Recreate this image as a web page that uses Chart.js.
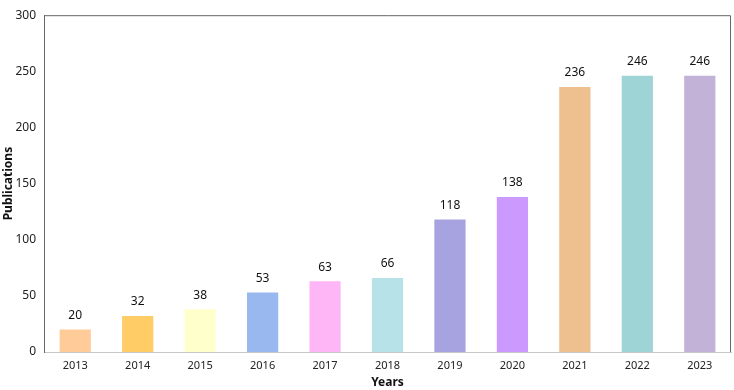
<!DOCTYPE html>
<html>
<head>
<meta charset="utf-8">
<script src="https://cdn.jsdelivr.net/npm/chart.js@4.4.0/dist/chart.umd.min.js"></script>
<style>
  html, body { margin: 0; padding: 0; background: #fff; }
  #wrap { width: 734px; height: 390px; }
</style>
</head>
<body>
<div id="wrap"><canvas id="pubCanvas"></canvas></div>
<script>
const years = ['2013', '2014', '2015', '2016', '2017', '2018', '2019', '2020', '2021', '2022', '2023'];
const publications = [20, 32, 38, 53, 63, 66, 118, 138, 236, 246, 246];
const barColors = ['#FFCC99', '#FFCC66', '#FFFFCC', '#99B8F0', '#FFB6F6', '#B6E2E8',
                   '#A6A3E0', '#CC99FF', '#EEBF8F', '#9FD4D7', '#C3B2D8'];
const yTicks = [0, 50, 100, 150, 200, 250, 300];

(() => {
    const FONT = '"Noto Sans", sans-serif';
    const ctx = document.getElementById('pubCanvas').getContext('2d');

    // value labels above each bar + box lines on top/right
    const extras = {
        id: 'extras',
        afterDatasetsDraw(chart) {
            const c = chart.ctx;
            const meta = chart.getDatasetMeta(0);
            c.save();
            c.font = '12px ' + FONT;
            c.fillStyle = '#111';
            c.textAlign = 'center';
            c.textBaseline = 'middle';
            meta.data.forEach((bar, i) => {
                c.fillText(String(publications[i]), bar.x, bar.y - 14);
            });
            const a = chart.chartArea;
            c.strokeStyle = '#666';
            c.lineWidth = 1;
            c.beginPath();
            c.moveTo(a.left, a.top + 0.5);
            c.lineTo(a.right - 0.5, a.top + 0.5);
            c.lineTo(a.right - 0.5, a.bottom);
            c.stroke();
            c.restore();
        }
    };

    new Chart(ctx, {
        type: 'bar',
        data: {
            labels: years,
            datasets: [{
                label: 'Publications',
                data: publications,
                backgroundColor: barColors,
                borderWidth: 0,
                barPercentage: 0.5,
                categoryPercentage: 1.0
            }]
        },
        options: {
            responsive: true,
            maintainAspectRatio: false,
            animation: false,
            layout: { padding: { top: 6, right: 3, left: 0, bottom: 0 } },
            plugins: {
                legend: { display: false },
                tooltip: { enabled: false }
            },
            scales: {
                x: {
                    grid: { display: false, drawTicks: false },
                    border: { display: true, color: '#c8c8c8', width: 1 },
                    ticks: { color: '#222', font: { family: FONT, size: 11 }, padding: 7 },
                    title: {
                        display: true,
                        text: 'Years',
                        color: '#111',
                        font: { family: FONT, size: 12, weight: 'bold' },
                        padding: { top: 0, bottom: 0 }
                    },
                    afterFit(scale) { scale.height = 38; }
                },
                y: {
                    min: 0,
                    max: 300,
                    afterBuildTicks(scale) { scale.ticks = yTicks.map(v => ({ value: v })); },
                    grid: { display: false, drawTicks: false },
                    border: { display: true, color: '#666', width: 1 },
                    ticks: { color: '#222', font: { family: FONT, size: 12 }, padding: 8 },
                    title: {
                        display: true,
                        text: 'Publications',
                        color: '#111',
                        font: { family: FONT, size: 12, weight: 'bold' },
                        padding: { top: 1, bottom: 0 }
                    },
                    afterFit(scale) { scale.width = 44; }
                }
            }
        },
        plugins: [extras]
    });
})();
</script>
</body>
</html>
